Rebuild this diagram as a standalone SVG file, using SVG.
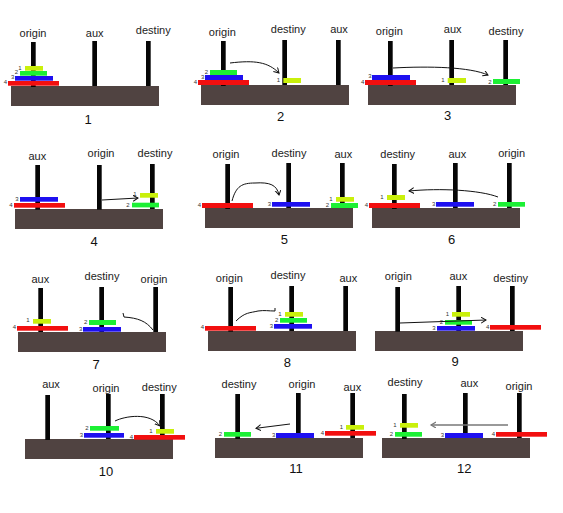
<svg xmlns="http://www.w3.org/2000/svg" width="563" height="513" viewBox="0 0 563 513">
<defs>
<style>
.base{fill:#504341}
.peg{fill:#060606}
.d1{fill:#c9f00b}
.d2{fill:#1cf034}
.d3{fill:#1e10f0}
.d4{fill:#f20f0f}
.lbl{font-family:"Liberation Sans",Arial,sans-serif;font-size:11px;fill:#222;text-anchor:middle}
.num{font-family:"Liberation Sans",Arial,sans-serif;font-size:13px;fill:#111;text-anchor:middle}
.dl{font-family:"Liberation Sans",Arial,sans-serif;font-size:6px;fill:#333;text-anchor:middle}
.arr{fill:none;stroke:#111;stroke-width:1}
.arrg{fill:none;stroke:#777;stroke-width:1.4}
</style>
<marker id="ah" markerWidth="8" markerHeight="8" refX="5" refY="3" orient="auto" markerUnits="userSpaceOnUse">
<path d="M0,0 L5,3 L0,6" fill="none" stroke="#111" stroke-width="1"/>
</marker>
<marker id="ahg" markerWidth="8" markerHeight="8" refX="5" refY="3" orient="auto" markerUnits="userSpaceOnUse">
<path d="M0,0 L5,3 L0,6" fill="none" stroke="#777" stroke-width="1.2"/>
</marker>
</defs>
<rect width="563" height="513" fill="#fff"/>

<g id="panel1">
<rect class="base" x="11" y="86" width="148" height="20"/>
<rect class="peg" x="31" y="42" width="4.7" height="45"/>
<rect class="peg" x="92.3" y="41" width="4.7" height="45"/>
<rect class="peg" x="146" y="41" width="4.7" height="45"/>
<text class="lbl" x="33" y="36.7">origin</text>
<text class="lbl" x="94.7" y="36.7">aux</text>
<text class="lbl" x="153.3" y="34">destiny</text>
<rect class="d1" x="25" y="66" width="18" height="4.7"/>
<rect class="d2" x="20" y="71" width="27" height="4.7"/>
<rect class="d3" x="15" y="76" width="38" height="4.7"/>
<rect class="d4" x="8" y="81" width="51" height="4.7"/>
<text class="dl" x="20" y="69.5">1</text>
<text class="dl" x="16.3" y="74">2</text>
<text class="dl" x="12.7" y="79">3</text>
<text class="dl" x="5.3" y="84">4</text>
<text class="num" x="88" y="123.5">1</text>
</g>

<g id="panel2">
<rect class="base" x="201" y="85" width="148" height="20"/>
<rect class="peg" x="221" y="41" width="4.7" height="45"/>
<rect class="peg" x="282.3" y="40" width="4.7" height="45"/>
<rect class="peg" x="336" y="40" width="4.7" height="45"/>
<text class="lbl" x="222.3" y="35.7">origin</text>
<text class="lbl" x="288.3" y="32.7">destiny</text>
<text class="lbl" x="339" y="33.3">aux</text>
<rect class="d2" x="210" y="70" width="27" height="5"/>
<rect class="d3" x="205" y="75" width="38" height="5"/>
<rect class="d4" x="198" y="80" width="51" height="5"/>
<rect class="d1" x="283.3" y="78" width="17.7" height="5"/>
<text class="dl" x="206.3" y="74">2</text>
<text class="dl" x="202.7" y="78.7">3</text>
<text class="dl" x="195.3" y="84">4</text>
<text class="dl" x="278.3" y="82">1</text>
<text class="num" x="280.7" y="120.5">2</text>
</g>

<g id="panel3">
<rect class="base" x="368" y="85" width="148" height="20"/>
<rect class="peg" x="388" y="41" width="4.7" height="45"/>
<rect class="peg" x="449.3" y="40" width="4.7" height="45"/>
<rect class="peg" x="503.3" y="40" width="4.7" height="45"/>
<text class="lbl" x="389.3" y="35">origin</text>
<text class="lbl" x="452.7" y="32.7">aux</text>
<text class="lbl" x="506" y="35">destiny</text>
<rect class="d3" x="372" y="75" width="38" height="5"/>
<rect class="d4" x="365" y="80" width="51" height="5"/>
<rect class="d1" x="447.7" y="78" width="18.3" height="5"/>
<rect class="d2" x="493" y="79" width="27" height="5"/>
<text class="dl" x="370" y="77.5">3</text>
<text class="dl" x="362.7" y="83.5">4</text>
<text class="dl" x="443" y="81.5">1</text>
<text class="dl" x="490" y="83.5">2</text>
<text class="num" x="447.7" y="120">3</text>
</g>

<g id="panel4">
<rect class="base" x="15" y="209" width="148" height="20"/>
<rect class="peg" x="35.3" y="165" width="4.7" height="44.7"/>
<rect class="peg" x="97" y="165" width="4.7" height="44.7"/>
<rect class="peg" x="150" y="164" width="4.7" height="45"/>
<text class="lbl" x="37.3" y="160">aux</text>
<text class="lbl" x="101" y="157.3">origin</text>
<text class="lbl" x="155" y="157.3">destiny</text>
<rect class="d3" x="20" y="197" width="38" height="4.7"/>
<rect class="d4" x="14" y="203" width="51" height="4.7"/>
<rect class="d1" x="140" y="193" width="18" height="4.7"/>
<rect class="d2" x="132" y="202.7" width="27" height="4.7"/>
<text class="dl" x="17" y="200.5">3</text>
<text class="dl" x="11" y="206.5">4</text>
<text class="dl" x="135" y="195.5">1</text>
<text class="dl" x="128" y="206.5">2</text>
<text class="num" x="94" y="245.5">4</text>
</g>

<g id="panel5">
<rect class="base" x="205" y="208" width="148" height="20"/>
<rect class="peg" x="225.3" y="164" width="4.7" height="45"/>
<rect class="peg" x="286.3" y="163" width="4.7" height="45"/>
<rect class="peg" x="340" y="163" width="4.7" height="45"/>
<text class="lbl" x="226" y="158.3">origin</text>
<text class="lbl" x="289" y="156.7">destiny</text>
<text class="lbl" x="343.3" y="158.3">aux</text>
<rect class="d4" x="202" y="203" width="51" height="5"/>
<rect class="d3" x="272" y="202" width="38" height="4.7"/>
<rect class="d1" x="336" y="197" width="18" height="4.7"/>
<rect class="d2" x="331" y="203" width="27" height="5"/>
<text class="dl" x="199.3" y="206.5">4</text>
<text class="dl" x="269.3" y="205.5">3</text>
<text class="dl" x="331" y="200.5">1</text>
<text class="dl" x="327.3" y="207">2</text>
<text class="num" x="284.3" y="243.5">5</text>
</g>

<g id="panel6">
<rect class="base" x="372" y="208" width="148" height="20"/>
<rect class="peg" x="392" y="164" width="4.7" height="45"/>
<rect class="peg" x="453" y="163" width="4.7" height="45"/>
<rect class="peg" x="507" y="163" width="4.7" height="45"/>
<text class="lbl" x="397.7" y="158.3">destiny</text>
<text class="lbl" x="457.3" y="158.3">aux</text>
<text class="lbl" x="511.7" y="156.7">origin</text>
<rect class="d1" x="387" y="195" width="18" height="5"/>
<rect class="d4" x="369" y="203" width="51" height="5"/>
<rect class="d3" x="436" y="202" width="38" height="4.7"/>
<rect class="d2" x="498" y="202" width="27" height="4.7"/>
<text class="dl" x="382" y="198.5">1</text>
<text class="dl" x="366.3" y="206.5">4</text>
<text class="dl" x="433.7" y="205.5">3</text>
<text class="dl" x="494.7" y="205.5">2</text>
<text class="num" x="451.7" y="243.5">6</text>
</g>

<g id="panel7">
<rect class="base" x="18" y="332" width="148" height="20"/>
<rect class="peg" x="38.3" y="288" width="4.7" height="44"/>
<rect class="peg" x="99.3" y="287" width="4.7" height="45"/>
<rect class="peg" x="153.3" y="287" width="4.7" height="45"/>
<text class="lbl" x="40.3" y="283.3">aux</text>
<text class="lbl" x="102" y="280">destiny</text>
<text class="lbl" x="154" y="283.3">origin</text>
<rect class="d1" x="33" y="319" width="18" height="4.7"/>
<rect class="d4" x="17" y="326" width="51" height="4.7"/>
<rect class="d2" x="89" y="320" width="27" height="5"/>
<rect class="d3" x="83" y="327" width="38" height="4.7"/>
<text class="dl" x="28" y="322">1</text>
<text class="dl" x="14.3" y="329">4</text>
<text class="dl" x="85.7" y="323.5">2</text>
<text class="dl" x="80.7" y="330.5">3</text>
<text class="num" x="96" y="369">7</text>
</g>

<g id="panel8">
<rect class="base" x="208" y="331" width="148" height="20"/>
<rect class="peg" x="228.3" y="287" width="4.7" height="44.7"/>
<rect class="peg" x="289.3" y="286" width="4.7" height="45"/>
<rect class="peg" x="343.3" y="286" width="4.7" height="45"/>
<text class="lbl" x="229.3" y="281.7">origin</text>
<text class="lbl" x="288" y="279">destiny</text>
<text class="lbl" x="348.3" y="281.7">aux</text>
<rect class="d4" x="205" y="326" width="51" height="4.7"/>
<rect class="d1" x="285" y="312" width="18" height="4.7"/>
<rect class="d2" x="280" y="318" width="27" height="4.7"/>
<rect class="d3" x="274" y="324" width="38" height="4.7"/>
<text class="dl" x="202.3" y="329">4</text>
<text class="dl" x="280" y="315.5">1</text>
<text class="dl" x="276.7" y="321.5">2</text>
<text class="dl" x="271.3" y="327.5">3</text>
<text class="num" x="287.3" y="367">8</text>
</g>

<g id="panel9">
<rect class="base" x="375" y="331" width="148" height="20"/>
<rect class="peg" x="395.3" y="287" width="4.7" height="44.7"/>
<rect class="peg" x="456.3" y="286" width="4.7" height="45"/>
<rect class="peg" x="510" y="286" width="4.7" height="45"/>
<text class="lbl" x="398.3" y="280">origin</text>
<text class="lbl" x="458.3" y="280">aux</text>
<text class="lbl" x="510.7" y="282.3">destiny</text>
<rect class="d1" x="452" y="312" width="18" height="4.7"/>
<rect class="d2" x="445" y="320" width="27" height="4.7"/>
<rect class="d3" x="437" y="326" width="38" height="4.7"/>
<rect class="d4" x="490" y="325" width="51" height="4.7"/>
<text class="dl" x="447.3" y="315.5">1</text>
<text class="dl" x="441.3" y="323.5">2</text>
<text class="dl" x="434" y="329.5">3</text>
<text class="dl" x="487.7" y="329">4</text>
<text class="num" x="455" y="366">9</text>
</g>

<g id="panel10">
<rect class="base" x="25" y="439" width="148" height="20"/>
<rect class="peg" x="45.3" y="395" width="4.7" height="45"/>
<rect class="peg" x="106" y="394" width="4.7" height="45"/>
<rect class="peg" x="160" y="394" width="4.7" height="45"/>
<text class="lbl" x="51" y="388.3">aux</text>
<text class="lbl" x="106" y="391.7">origin</text>
<text class="lbl" x="159.3" y="391">destiny</text>
<rect class="d2" x="90" y="426" width="29" height="4.7"/>
<rect class="d3" x="84" y="433" width="40" height="4.7"/>
<rect class="d1" x="156" y="429" width="18" height="4.7"/>
<rect class="d4" x="134" y="435" width="51" height="4.7"/>
<text class="dl" x="87" y="429.5">2</text>
<text class="dl" x="81.3" y="437">3</text>
<text class="dl" x="151" y="432.5">1</text>
<text class="dl" x="131.3" y="438.5">4</text>
<text class="num" x="106" y="476">10</text>
</g>

<g id="panel11">
<rect class="base" x="215" y="438" width="148" height="20"/>
<rect class="peg" x="235.3" y="394" width="4.7" height="45"/>
<rect class="peg" x="296" y="393" width="4.7" height="45"/>
<rect class="peg" x="350.3" y="393" width="4.7" height="45"/>
<text class="lbl" x="239" y="387.7">destiny</text>
<text class="lbl" x="302" y="387.7">origin</text>
<text class="lbl" x="352.3" y="391">aux</text>
<rect class="d2" x="224" y="432" width="27" height="4.7"/>
<rect class="d3" x="276" y="433" width="38" height="5"/>
<rect class="d1" x="346" y="425" width="18" height="4.7"/>
<rect class="d4" x="325" y="431" width="51" height="4.7"/>
<text class="dl" x="220.3" y="436">2</text>
<text class="dl" x="273.7" y="437">3</text>
<text class="dl" x="341.3" y="428.5">1</text>
<text class="dl" x="322.3" y="434.5">4</text>
<text class="num" x="296" y="472.7">11</text>
</g>

<g id="panel12">
<rect class="base" x="382" y="438" width="148" height="20"/>
<rect class="peg" x="402" y="394" width="4.7" height="45"/>
<rect class="peg" x="463" y="393" width="4.7" height="45"/>
<rect class="peg" x="517" y="393" width="4.7" height="45"/>
<text class="lbl" x="405" y="386">destiny</text>
<text class="lbl" x="469.3" y="386.7">aux</text>
<text class="lbl" x="519" y="390">origin</text>
<rect class="d1" x="400" y="423" width="18" height="4.7"/>
<rect class="d2" x="395" y="432" width="27" height="4.7"/>
<rect class="d3" x="445" y="433" width="38" height="5"/>
<rect class="d4" x="496" y="432" width="51" height="4.7"/>
<text class="dl" x="395" y="426.5">1</text>
<text class="dl" x="391.3" y="435.5">2</text>
<text class="dl" x="442.3" y="437">3</text>
<text class="dl" x="493.3" y="435.5">4</text>
<text class="num" x="464.3" y="472.7">12</text>
</g>

<g id="connectors">
<path class="arr" d="M230,63 C255,60 268,62 279,73" marker-end="url(#ah)"/>
<path class="arr" d="M393,68 C430,66 470,67 488,75" marker-end="url(#ah)"/>
<path class="arr" d="M102,200 L138,198" marker-end="url(#ah)"/>
<path class="arr" d="M232,201 C236,186 242,183 255,183 C270,182 277,185 279,195" marker-end="url(#ah)"/>
<path class="arr" d="M498,197 C480,190 440,188 409,191" marker-end="url(#ah)"/>
<path class="arr" d="M153,330 C146,321 138,318 124,317 L123,313"/>
<path class="arr" d="M236,321 C245,312 250,313 258,311 C265,310 268,311 275,311 L275,308"/>
<path class="arr" d="M400,323 L486,320" marker-end="url(#ah)"/>
<path class="arr" d="M115,421 C125,416 150,412 160,426" marker-end="url(#ah)"/>
<path class="arr" d="M290,424 L256,428.3" marker-end="url(#ah)"/>
<path class="arrg" d="M508,425 L431,425" marker-end="url(#ahg)"/>
</g>
</svg>
